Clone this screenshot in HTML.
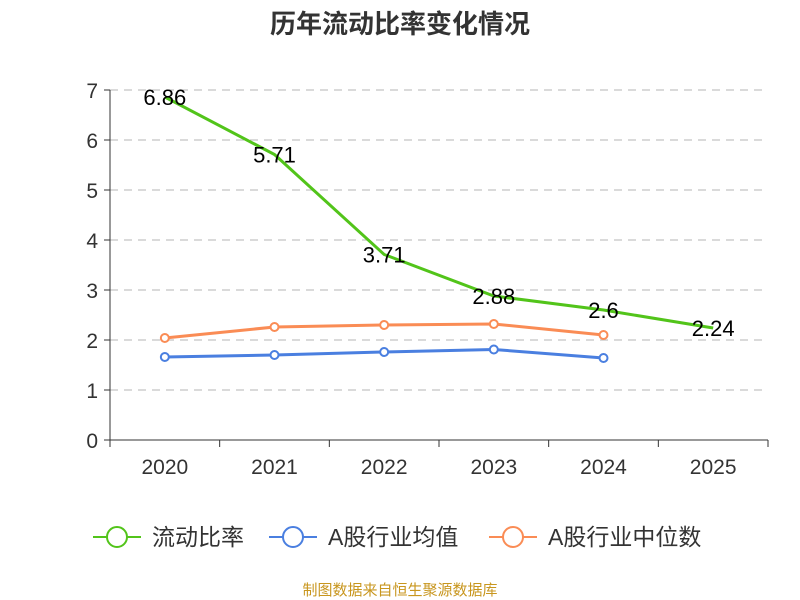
<!DOCTYPE html>
<html><head><meta charset="utf-8"><style>
body{margin:0;background:#fff;}
svg{display:block;font-family:"Liberation Sans","Noto Sans CJK SC",sans-serif;}
</style></head><body>
<svg id="chart" width="800" height="600">
<text x="400" y="33" text-anchor="middle" font-size="26" font-weight="bold" fill="#333">历年流动比率变化情况</text>
<g id="grid"></g><g id="axes"></g><g id="series"></g>
<g>
<g><line x1="93" y1="537" x2="141" y2="537" stroke="#52c41a" stroke-width="2"/><circle cx="117" cy="537" r="10" fill="#fff" stroke="#52c41a" stroke-width="2"/><text x="152" y="545" font-size="23" fill="#333">流动比率</text></g>
<g><line x1="269" y1="537" x2="317" y2="537" stroke="#4a7fe0" stroke-width="2"/><circle cx="293" cy="537" r="10" fill="#fff" stroke="#4a7fe0" stroke-width="2"/><text x="328" y="545" font-size="23" fill="#333">A股行业均值</text></g>
<g><line x1="489" y1="537" x2="537" y2="537" stroke="#fa8c55" stroke-width="2"/><circle cx="513" cy="537" r="10" fill="#fff" stroke="#fa8c55" stroke-width="2"/><text x="548" y="545" font-size="23" fill="#333">A股行业中位数</text></g>
</g>
<text x="400" y="595" text-anchor="middle" font-size="15" fill="#c8961e">制图数据来自恒生聚源数据库</text>
</svg>
<script>
const categories=["2020","2021","2022","2023","2024","2025"];
const ratio=[6.86,5.71,3.71,2.88,2.6,2.24];
const ratioLabels=["6.86","5.71","3.71","2.88","2.6","2.24"];
const industryMean=[1.66,1.70,1.76,1.81,1.64];
const industryMedian=[2.04,2.26,2.30,2.32,2.10];
const yTicks=[0,1,2,3,4,5,6,7];
const NS="http://www.w3.org/2000/svg";
const x0=110,x1=768,y0=440,yTop=90,yMax=7;
const bw=(x1-x0)/categories.length;
const xs=i=>x0+bw*(i+0.5);
const ys=v=>y0-(v/yMax)*(y0-yTop);
function mk(tag,attrs,parent,txt){const e=document.createElementNS(NS,tag);for(const k in attrs)e.setAttribute(k,attrs[k]);if(txt!==undefined)e.textContent=txt;parent.appendChild(e);return e;}
const grid=document.getElementById('grid'),axes=document.getElementById('axes'),ser=document.getElementById('series');
yTicks.forEach(t=>{
 if(t>0){const l=mk('line',{x1:x0,x2:x1,y1:ys(t),y2:ys(t),stroke:'#c4c4c4','stroke-width':1.3,'stroke-dasharray':'8,6'},grid);
 
 }
 const tl=mk('line',{x1:x0-6,x2:x0,y1:ys(t),y2:ys(t),stroke:'#333'},axes);
 
 
 const tx=mk('text',{x:x0-12,y:ys(t)+8,'text-anchor':'end','font-size':21,fill:'#333'},axes,String(t));
 
 
});
const ya=mk('line',{x1:x0,x2:x0,y1:yTop,y2:y0,stroke:'#333'},axes);


const xa=mk('line',{x1:x0,x2:x1,y1:y0,y2:y0,stroke:'#333'},axes);


for(let i=0;i<=categories.length;i++){mk('line',{x1:x0+bw*i,x2:x0+bw*i,y1:y0,y2:y0+7,stroke:'#333'},axes);}
categories.forEach((c,i)=>{const t=mk('text',{x:xs(i),y:y0+34,'text-anchor':'middle','font-size':21,fill:'#333'},axes,c);
 
 });
function line(vals,color,name,markers){
 const p=mk('polyline',{points:vals.map((v,i)=>xs(i)+','+ys(v)).join(' '),fill:'none',stroke:color,'stroke-width':3},ser);
 
 
 if(markers)vals.forEach((v,i)=>{const c=mk('circle',{cx:xs(i),cy:ys(v),r:4,fill:'#fff',stroke:color,'stroke-width':2},ser);
  
  });
}
line(industryMedian,'#fa8c55','industry-median',true);
line(industryMean,'#4a7fe0','industry-mean',true);
line(ratio,'#52c41a','current-ratio',false);
ratio.forEach((v,i)=>{const t=mk('text',{x:xs(i),y:ys(v)+8,'text-anchor':'middle','font-size':22,fill:'#000'},ser,ratioLabels[i]);
 
 });
</script>
</body></html>
